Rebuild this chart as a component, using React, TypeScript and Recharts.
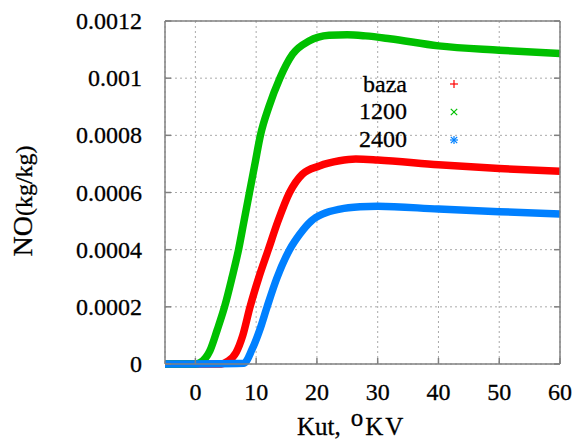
import React from 'react';
import { LineChart, Line, XAxis, YAxis, CartesianGrid, Legend, Label } from 'recharts';

// ---- data ----
const kutBaza = [-5, 4.3, 5.2, 6.7, 7.8, 9, 10.4, 12, 13.6, 15.5, 17.6, 20.4, 23.7, 26.4, 30, 40, 50, 60];
const noBaza = [0, 0, 0.000008, 0.00004, 0.0001, 0.0002, 0.0003, 0.0004, 0.0005, 0.0006, 0.000664, 0.000693, 0.000711, 0.000717, 0.000714, 0.000697, 0.000684, 0.000674];

const kut1200 = [-5, 0, 0.8, 2.4, 3.6, 4.8, 6, 7.1, 8, 8.9, 9.8, 10.7, 12.1, 13.9, 16, 18.7, 22, 25, 28, 32, 40, 50, 60];
const no1200 = [0, 0, 0.000005, 0.000047, 0.00012, 0.0002, 0.0003, 0.0004, 0.0005, 0.0006, 0.0007, 0.0008, 0.0009, 0.001, 0.001084, 0.00113, 0.00115, 0.001152, 0.001148, 0.001138, 0.001113, 0.001098, 0.001086];

const kut2400 = [-5, 8, 9.3, 10.6, 11.8, 13.4, 15.5, 17.2, 19.1, 21, 23.8, 27.1, 30, 40, 50, 60];
const no2400 = [0, 0.000003, 0.00005, 0.00012, 0.0002, 0.0003, 0.0004, 0.000455, 0.000501, 0.000525, 0.000542, 0.00055, 0.000552, 0.000542, 0.000533, 0.000525];

const seriesNames = ['baza', '1200', '2400'];
const seriesColors = ['#ff0000', '#00c000', '#0080ff'];
const seriesMarkers = ['plus', 'cross', 'star'];

const xTicks = [0, 10, 20, 30, 40, 50, 60];
const xTickLabels = ['0', '10', '20', '30', '40', '50', '60'];
const yTicks = [0, 0.0002, 0.0004, 0.0006, 0.0008, 0.001, 0.0012];
const yTickLabels = ['0', '0.0002', '0.0004', '0.0006', '0.0008', '0.001', '0.0012'];

const toRows = (xs: number[], ys: number[]) => xs.map((k, i) => ({ kut: k, no: ys[i] }));
const seriesData = [toRows(kutBaza, noBaza), toRows(kut1200, no1200), toRows(kut2400, no2400)];

const FONT = "'Liberation Serif', 'Times New Roman', serif";
const AXIS = '#808080';
const TXT = { fill: '#000', stroke: '#000', strokeWidth: 0.3 };

const XTick = (props: any) => {
  const { x, y, index } = props;
  return (
    <g>
      <line x1={x} x2={x} y1={y} y2={y - 6} stroke={AXIS} strokeWidth={1.5} />
      <text x={x} y={y + 36} textAnchor="middle" fontFamily={FONT} fontSize={24} {...TXT}>
        {xTickLabels[index]}
      </text>
    </g>
  );
};
const XTopTick = (props: any) => {
  const { x, y } = props;
  return <line x1={x} x2={x} y1={y} y2={y + 6} stroke={AXIS} strokeWidth={1.5} />;
};
const YTick = (props: any) => {
  const { x, y, index } = props;
  return (
    <g>
      <line x1={x} x2={x + 6} y1={y} y2={y} stroke={AXIS} strokeWidth={1.5} />
      <text x={x - 23} y={y + 8} textAnchor="end" fontFamily={FONT} fontSize={24} {...TXT}>
        {yTickLabels[index]}
      </text>
    </g>
  );
};
const YRightTick = (props: any) => {
  const { x, y } = props;
  return <line x1={x} x2={x - 6} y1={y} y2={y} stroke={AXIS} strokeWidth={1.5} />;
};

const Marker = ({ kind, color }: { kind: string; color: string }) => {
  const s = 4;
  const plus = (
    <g>
      <line x1={7 - s} x2={7 + s} y1={7} y2={7} stroke={color} strokeWidth={1.2} />
      <line x1={7} x2={7} y1={7 - s} y2={7 + s} stroke={color} strokeWidth={1.2} />
    </g>
  );
  const cross = (
    <g>
      <line x1={7 - 3.2} x2={7 + 3.2} y1={7 - 3.2} y2={7 + 3.2} stroke={color} strokeWidth={1.2} />
      <line x1={7 - 3.2} x2={7 + 3.2} y1={7 + 3.2} y2={7 - 3.2} stroke={color} strokeWidth={1.2} />
    </g>
  );
  return (
    <svg width={14} height={14} style={{ display: 'block' }}>
      {kind === 'plus' && plus}
      {kind === 'cross' && cross}
      {kind === 'star' && (
        <g>
          {plus}
          {cross}
        </g>
      )}
    </svg>
  );
};

const LegendContent = () => (
  <div style={{ fontFamily: FONT, fontSize: 24, color: '#000', WebkitTextStroke: '0.3px #000' } as any}>
    {seriesNames.map((n, i) => (
      <div key={n} style={{ display: 'flex', alignItems: 'center', height: 27.7, lineHeight: '27.7px' }}>
        <span style={{ width: 77, textAlign: 'right', display: 'inline-block' }}>{n}</span>
        <span style={{ marginLeft: 40 }}>
          <Marker kind={seriesMarkers[i]} color={seriesColors[i]} />
        </span>
      </div>
    ))}
  </div>
);

export default function App() {
  return (
    <div style={{ position: 'absolute', left: 0, top: 0, width: 575, height: 444, background: '#fff' }}>
      <LineChart width={575} height={444} margin={{ top: 0, right: 0, bottom: 0, left: 0 }}>
        <CartesianGrid stroke="#aaaaaa" strokeDasharray="2 3" strokeWidth={1} />
        {seriesData.map((d, i) => (
          <Line
            key={seriesNames[i]}
            data={d}
            dataKey="no"
            name={seriesNames[i]}
            type="monotone"
            stroke={seriesColors[i]}
            strokeWidth={7.5}
            dot={false}
            activeDot={false}
            isAnimationActive={false}
          />
        ))}
        <XAxis
          dataKey="kut"
          type="number"
          domain={[-5, 60]}
          ticks={xTicks}
          interval={0}
          height={80}
          tickSize={0}
          tickMargin={0}
          tickLine={false}
          tick={<XTick />}
          axisLine={{ stroke: AXIS, strokeWidth: 1.5 }}
        >
          <Label
            content={(p: any) => {
              const vb = p.viewBox || { x: 165, y: 364, width: 395 };
              return (
                <text x={vb.x + 132} y={vb.y + 71} fontFamily={FONT} fontSize={25} {...TXT}>
                  <tspan>Kut,</tspan>
                  <tspan dx={10} dy={-9}>o</tspan>
                  <tspan dx={2} dy={9} letterSpacing={2}>KV</tspan>
                </text>
              );
            }}
          />
        </XAxis>
        <XAxis
          xAxisId="top"
          orientation="top"
          type="number"
          domain={[-5, 60]}
          allowDataOverflow
          ticks={xTicks}
          interval={0}
          height={21}
          tickSize={0}
          tickMargin={0}
          tickLine={false}
          tick={<XTopTick />}
          axisLine={{ stroke: AXIS, strokeWidth: 1.5 }}
        />
        <YAxis
          type="number"
          domain={[0, 0.0012]}
          ticks={yTicks}
          interval={0}
          width={165}
          tickSize={0}
          tickMargin={0}
          tickLine={false}
          tick={<YTick />}
          axisLine={{ stroke: AXIS, strokeWidth: 1.5 }}
        >
          <Label
            content={() => (
              <text
                x={32}
                y={201}
                transform="rotate(-90, 32, 201)"
                textAnchor="middle"
                fontFamily={FONT}
                {...TXT}
              >
                <tspan fontSize={28}>NO</tspan>
                <tspan fontSize={24}>(kg/kg)</tspan>
              </text>
            )}
          />
        </YAxis>
        <YAxis
          yAxisId="right"
          orientation="right"
          type="number"
          domain={[0, 0.0012]}
          allowDataOverflow
          ticks={yTicks}
          interval={0}
          width={15}
          tickSize={0}
          tickMargin={0}
          tickLine={false}
          tick={<YRightTick />}
          axisLine={{ stroke: AXIS, strokeWidth: 1.5 }}
        />
        <Legend
          layout="vertical"
          align="center"
          verticalAlign="middle"
          content={<LegendContent />}
          wrapperStyle={{ position: 'absolute', left: 330, top: 70.5, width: 150, height: 84 }}
        />
      </LineChart>
    </div>
  );
}
